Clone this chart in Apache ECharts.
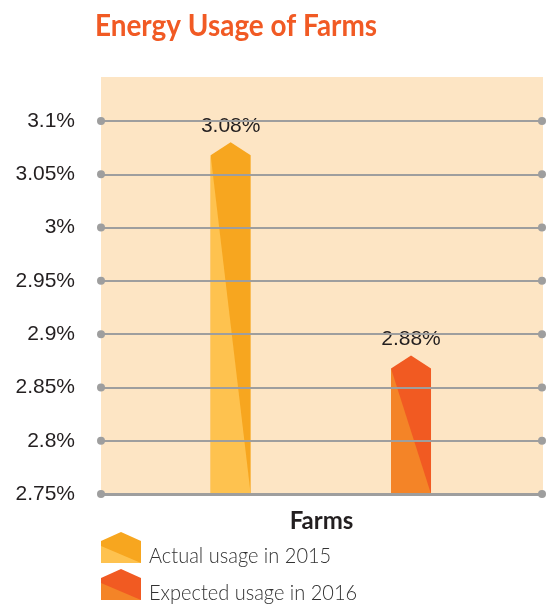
<!DOCTYPE html>
<html>
<head>
<meta charset="utf-8">
<title>Energy Usage of Farms</title>
<script src="https://cdn.jsdelivr.net/npm/echarts@6/dist/echarts.min.js"></script>
<style>
  html, body { margin: 0; padding: 0; background: #ffffff; }
  #chart { width: 550px; height: 604px; }
</style>
</head>
<body>
<div id="chart"></div>
<script>
// ---- data ----
const categories = ['Farms'];
const seriesNames = ['Actual usage in 2015', 'Expected usage in 2016'];
const usage2015 = [3.08];
const usage2016 = [2.88];
const yTicks = [2.75, 2.8, 2.85, 2.9, 2.95, 3, 3.05, 3.1];
const chartTitle = 'Energy Usage of Farms';

// ---- styling ----
const palette = {
  light: ['#FEC24F', '#F48427'],
  dark: ['#F7A61F', '#F15A22'],
  plotBg: '#FDE5C4',
  grid: '#9E9E9E',
  text: '#231F20',
  title: '#F15A24'
};
const barOffset = [-0.206, 0.203];   // bar centre, as a share of the category band
const BAR_HALF = 20;                 // half bar width in px
const BAR_PEAK = 13;                 // height of the pointed roof in px
const GRID = { left: 101, right: 8, top: 121, bottom: 110 };

function fmtPct(v) {
  return (+Number(v).toFixed(2)) + '%';
}

function houseBar(idx) {
  return function (params, api) {
    const val = api.value(1);
    const tip = api.coord([api.value(0), val]);
    const base = api.coord([api.value(0), yTicks[0]]);
    const band = api.size([1, 0])[0];
    const cx = tip[0] + barOffset[idx] * band;
    const sy = tip[1] + BAR_PEAK;
    const by = base[1];
    return {
      type: 'group',
      children: [
        {
          type: 'polygon',
          shape: { points: [[cx - BAR_HALF, sy], [cx, tip[1]], [cx + BAR_HALF, sy], [cx + BAR_HALF, by], [cx - BAR_HALF, by]] },
          style: { fill: palette.dark[idx] }
        },
        {
          type: 'polygon',
          shape: { points: [[cx - BAR_HALF, sy], [cx + BAR_HALF, by], [cx - BAR_HALF, by]] },
          style: { fill: palette.light[idx] }
        },
        {
          type: 'text',
          x: cx,
          y: tip[1] - 16,
          style: {
            text: fmtPct(val),
            fill: palette.text,
            font: '21px "Liberation Sans", Arial, sans-serif',
            align: 'center',
            verticalAlign: 'middle'
          }
        }
      ]
    };
  };
}

// legend icon: small house with diagonal two-tone split
function legendIcon(x, y, idx) {
  const w = 40, peak = 9, split = 14, h = 31;
  return [
    {
      type: 'polygon',
      shape: { points: [[x, y + peak], [x + w / 2, y], [x + w, y + peak], [x + w, y + h], [x, y + h]] },
      style: { fill: palette.dark[idx] }
    },
    {
      type: 'polygon',
      shape: { points: [[x, y + split], [x + w, y + h], [x, y + h]] },
      style: { fill: palette.light[idx] }
    }
  ];
}

const legendTop = [532, 569];
const legendElems = [];
seriesNames.forEach(function (name, i) {
  legendIcon(101, legendTop[i], i).forEach(function (e) { legendElems.push(e); });
  legendElems.push({
    type: 'text',
    x: 149,
    y: legendTop[i] + 24,
    scaleX: 0.91,
    style: {
      text: name,
      fill: '#333333',
      font: '300 22px Lato, "Noto Sans", sans-serif',
      align: 'left',
      verticalAlign: 'middle'
    }
  });
});

const chart = echarts.init(document.getElementById('chart'), null, { renderer: 'canvas' });

chart.setOption({
  animation: false,
  graphic: [
    {
      type: 'rect',
      z: -10,
      shape: { x: 101, y: 77, width: 442, height: 417 },
      style: { fill: palette.plotBg }
    },
    {
      type: 'text',
      x: 95,
      y: 26,
      scaleX: 0.93,
      style: {
        text: chartTitle,
        fill: palette.title,
        font: 'bold 30px Lato, "Noto Sans", sans-serif',
        align: 'left',
        verticalAlign: 'middle'
      }
    }
  ].concat(legendElems),
  grid: GRID,
  xAxis: {
    type: 'category',
    data: categories,
    axisLine: { show: false },
    axisTick: { show: false },
    axisLabel: { show: false },
    splitLine: { show: false },
    name: 'Farms',
    nameLocation: 'middle',
    nameGap: 15,
    nameTextStyle: {
      color: palette.text,
      fontSize: 24,
      fontWeight: 'bold',
      fontFamily: 'Lato, "Noto Sans", sans-serif',
      verticalAlign: 'top'
    }
  },
  yAxis: {
    type: 'value',
    min: yTicks[0],
    max: yTicks[yTicks.length - 1],
    interval: 0.05,
    axisLine: { show: false },
    axisTick: { show: false },
    splitLine: { show: false },
    axisLabel: {
      margin: 26,
      color: palette.text,
      fontSize: 21,
      fontFamily: '"Liberation Sans", Arial, sans-serif',
      formatter: fmtPct
    }
  },
  series: [
    {
      // grid rules with round end caps
      type: 'line',
      name: 'rules',
      data: [],
      z: 1,
      silent: true,
      markLine: {
        silent: true,
        symbol: ['circle', 'circle'],
        symbolSize: 8,
        label: { show: false },
        emphasis: { disabled: true },
        lineStyle: { color: palette.grid, width: 2, type: 'solid' },
        itemStyle: { color: palette.grid },
        data: yTicks.map(function (v, i) {
          return i === 0
            ? { yAxis: v, lineStyle: { color: palette.grid, width: 3, type: 'solid' } }
            : { yAxis: v };
        })
      }
    },
    {
      type: 'custom',
      name: seriesNames[0],
      z: 3,
      renderItem: houseBar(0),
      data: usage2015.map(function (v, i) { return [i, v]; })
    },
    {
      type: 'custom',
      name: seriesNames[1],
      z: 3,
      renderItem: houseBar(1),
      data: usage2016.map(function (v, i) { return [i, v]; })
    }
  ]
});
</script>
</body>
</html>
